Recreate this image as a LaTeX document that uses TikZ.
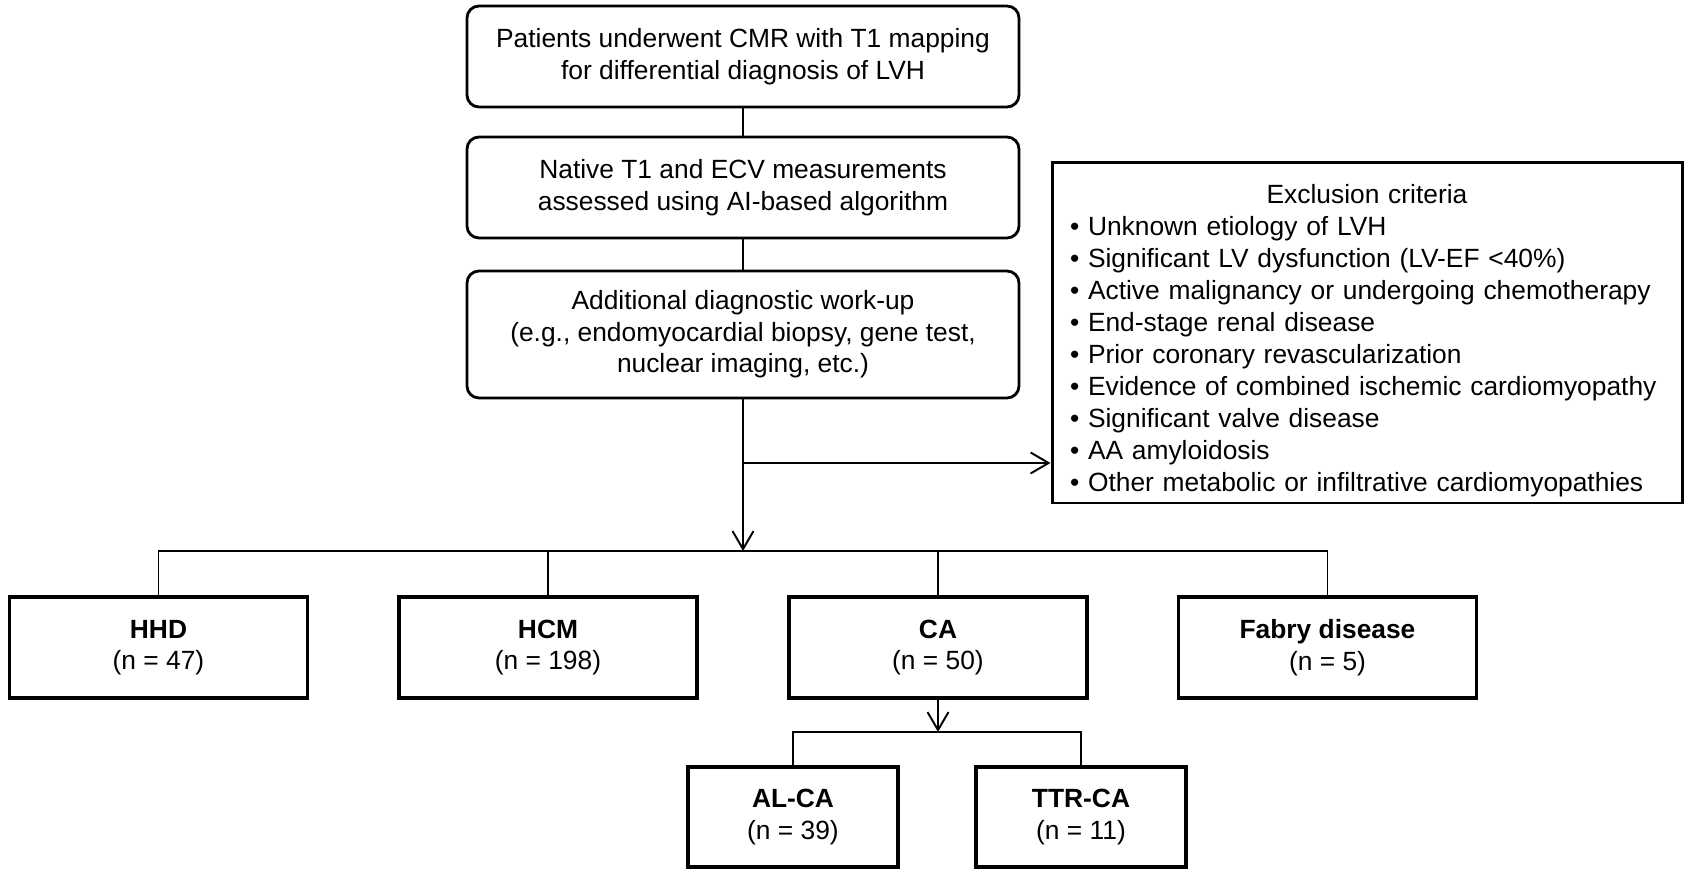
\documentclass[tikz,border=0pt]{standalone}
\usepackage{fontspec}
\setmainfont{Liberation Sans}
\usetikzlibrary{arrows.meta,positioning,calc}

\begin{document}
\begin{tikzpicture}[
    every node/.style = {font=\fontsize{15}{18}\selectfont},
    stepbox/.style = {draw, line width=1.6pt, rounded corners=0.24cm, minimum width=11.04cm, minimum height=2.02cm, align=center},
    groupbox/.style = {draw, line width=1.8pt, minimum width=5.96cm, minimum height=2.02cm, align=center},
    subbox/.style = {draw, line width=1.8pt, minimum width=4.2cm, minimum height=2.0cm, align=center},
    link/.style = {line width=1.1pt},
    arr/.style = {link, -{Straight Barb[length=0.36cm, width=0.42cm]}}
]
    \useasboundingbox (0,0) rectangle (33.76,17.44);

    % screening steps
    \node[stepbox] (cmr) at (14.86, 16.31) {Patients underwent CMR with T1 mapping\\for differential diagnosis of LVH};
    \node[stepbox] (ai) at (14.86, 13.69) {Native T1 and ECV measurements\\assessed using AI-based algorithm};
    \node[stepbox, minimum height=2.54cm] (workup) at (14.86, 10.75) {Additional diagnostic work-up\\(e.g., endomyocardial biopsy, gene test,\\nuclear imaging, etc.)};

    % exclusion
    \node[draw, line width=1.7pt, minimum height=6.68cm, text width=11.88cm, inner xsep=0.36cm,
          font=\fontsize{15}{18.2}\selectfont] (excl) at (27.34, 10.78) {%
        {\centering\rule{0pt}{0.7cm}Exclusion criteria\par}
        \textbullet\ Unknown etiology of LVH\\
        \textbullet\ Significant LV dysfunction (LV-EF <40\%)\\
        \textbullet\ Active malignancy or undergoing chemotherapy\\
        \textbullet\ End-stage renal disease\\
        \textbullet\ Prior coronary revascularization\\
        \textbullet\ Evidence of combined ischemic cardiomyopathy\\
        \textbullet\ Significant valve disease\\
        \textbullet\ AA amyloidosis\\
        \textbullet\ Other metabolic or infiltrative cardiomyopathies};

    % groups
    \node[groupbox] (hhd) at (3.17, 4.49) {\textbf{HHD}\\(n = 47)};
    \node[groupbox] (hcm) at (10.96, 4.49) {\textbf{HCM}\\(n = 198)};
    \node[groupbox] (ca) at (18.76, 4.49) {\textbf{CA}\\(n = 50)};
    \node[groupbox] (fabry) at (26.55, 4.49) {\textbf{Fabry disease}\\(n = 5)};

    % CA subtypes
    \node[subbox] (alca) at (15.86, 1.10) {\textbf{AL-CA}\\(n = 39)};
    \node[subbox] (ttrca) at (21.62, 1.10) {\textbf{TTR-CA}\\(n = 11)};

    \coordinate (branch) at (14.86, 8.18);
    \coordinate (split) at (14.86, 6.42);
    \coordinate (casplit) at (18.76, 2.80);

    %connectors
    \draw[link] (cmr) -- (ai);
    \draw[link] (ai) -- (workup);
    \draw[arr] (workup) -- (split);
    \draw[arr] (branch) -- (branch -| excl.west);

    \draw[link] (hhd.north) |- (fabry.north |- split) -- (fabry.north);
    \foreach \g in {hcm, ca}
        \draw[link] (\g.north) -- (\g.north |- split);

    \draw[arr] (ca) -- (casplit);
    \draw[link] (alca.north) |- (casplit) -| (ttrca.north);

\end{tikzpicture}
\end{document}
